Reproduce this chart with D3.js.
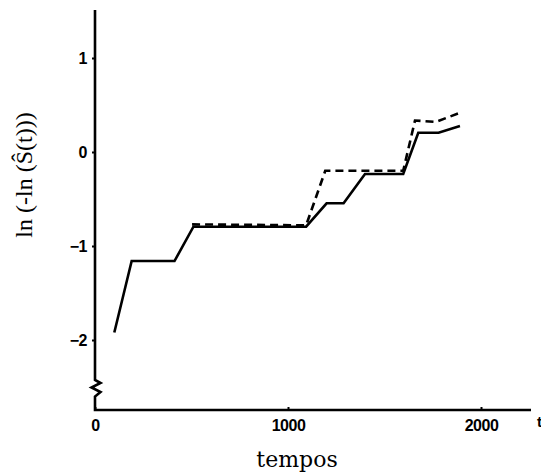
<!DOCTYPE html>
<html>
<head>
<meta charset="utf-8">
<script src="https://cdn.jsdelivr.net/npm/d3@7"></script>
<style>
  body { margin: 0; background: #fff; }
  svg { display: block; }
</style>
</head>
<body>
<svg id="chart" width="541" height="472"></svg>
<script>
// estimated from the figure: ln(-ln S(t)) against time, two curves
const solidT = [100, 190, 412, 510, 1094, 1200, 1288, 1399, 1597, 1675, 1780, 1891];
const solidY = [-1.92, -1.16, -1.16, -0.795, -0.795, -0.546, -0.546, -0.234, -0.234, 0.205, 0.205, 0.277];

const dashT = [503, 1094, 1193, 1597, 1658, 1765, 1882];
const dashY = [-0.77, -0.78, -0.20, -0.20, 0.335, 0.32, 0.41];

const xTicks = [0, 1000, 2000];
const yTicks = [-2, -1, 0, 1];

const svg = d3.select('#chart');

const x = d3.scaleLinear().domain([0, 2000]).range([95, 481]);
const y = d3.scaleLinear().domain([-2, 1]).range([340, 58]);

const xEnd = x.invert(531);
const yTop = y.invert(10);
const yBot = y.invert(410);

// axes: ticks from d3, the domain drawn by hand for the broken y axis
const xAxis = d3.axisBottom(x).tickValues(xTicks).tickSizeInner(-3).tickSizeOuter(0).tickPadding(10)
    .tickFormat(d3.format('d'));
const yAxis = d3.axisLeft(y).tickValues(yTicks).tickSizeInner(3).tickSizeOuter(0).tickPadding(5)
    .tickFormat(d3.format('d'));

const gx = svg.append('g').attr('transform', `translate(0,${y(yBot)})`).call(xAxis);
const gy = svg.append('g').attr('transform', `translate(${x(0)},0)`).call(yAxis);

[gx, gy].forEach(g => {
    g.select('.domain').remove();
    g.selectAll('.tick line').attr('stroke', '#000').attr('stroke-width', 2);
    g.selectAll('.tick text')
        .attr('fill', '#000')
        .style('font-family', '"Liberation Sans", Arial, sans-serif')
        .style('font-weight', 'bold')
        .style('font-size', '16px')
        .style('letter-spacing', '-0.5px');
});

// y axis with the zigzag break near the bottom, then the x axis
const x0 = x(0);
const axisPath = d3.path();
axisPath.moveTo(x0, y(yTop));
axisPath.lineTo(x0, 380);
axisPath.lineTo(x0 + 5.5, 383);
axisPath.lineTo(x0 - 3.5, 387.5);
axisPath.lineTo(x0 + 5.5, 392);
axisPath.lineTo(x0, 396.5);
axisPath.lineTo(x0, y(yBot));
axisPath.lineTo(x(xEnd), y(yBot));

svg.append('path')
    .attr('d', axisPath.toString())
    .attr('fill', 'none')
    .attr('stroke', '#000')
    .attr('stroke-width', 2.6)
    .attr('stroke-linejoin', 'miter');

const line = d3.line()
    .x(d => x(d[0]))
    .y(d => y(d[1]));

svg.append('path')
    .attr('d', line(solidT.map((t, i) => [t, solidY[i]])))
    .attr('fill', 'none')
    .attr('stroke', '#000')
    .attr('stroke-width', 2.6);

svg.append('path')
    .attr('d', line(dashT.map((t, i) => [t, dashY[i]])))
    .attr('fill', 'none')
    .attr('stroke', '#000')
    .attr('stroke-width', 2.6)
    .attr('stroke-dasharray', '8,5');

// labels
svg.append('text')
    .attr('x', 297)
    .attr('y', 467)
    .attr('text-anchor', 'middle')
    .style('font-family', '"DejaVu Serif", serif')
    .style('font-size', '22px')
    .text('tempos');

svg.append('text')
    .attr('transform', 'translate(32,175) rotate(-90)')
    .attr('text-anchor', 'middle')
    .style('font-family', '"Liberation Serif", "Times New Roman", serif')
    .style('font-size', '24px')
    .text('ln (-ln (\u015C(t)))');

svg.append('text')
    .attr('x', 537)
    .attr('y', 427)
    .style('font-family', '"Liberation Sans", Arial, sans-serif')
    .style('font-weight', 'bold')
    .style('font-size', '15px')
    .text('t');
</script>
</body>
</html>
